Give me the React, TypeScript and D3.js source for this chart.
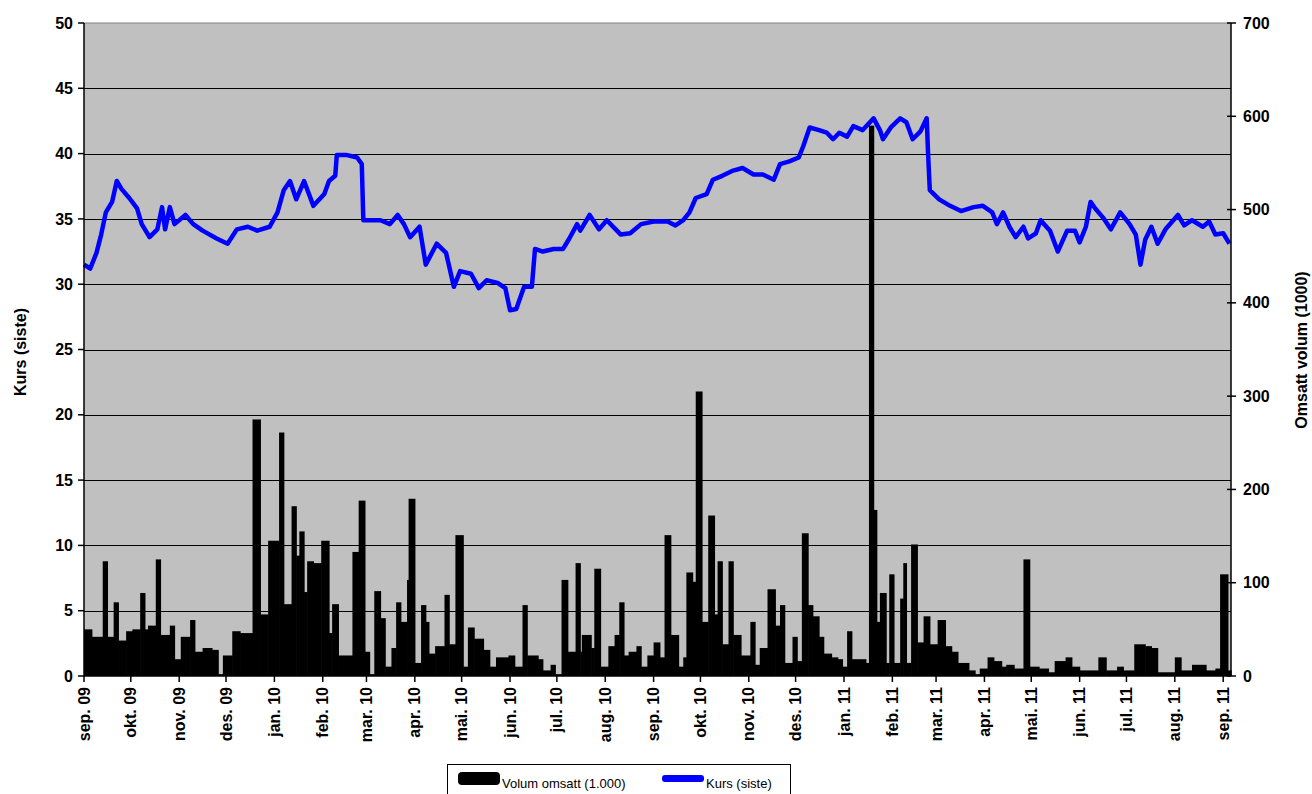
import * as d3 from "d3"
import React from "react"

// month tick labels on the x axis (one per month start)
const monthLabels = [
  "sep. 09", "okt. 09", "nov. 09", "des. 09", "jan. 10", "feb. 10", "mar. 10",
  "apr. 10", "mai. 10", "jun. 10", "jul. 10", "aug. 10", "sep. 10", "okt. 10",
  "nov. 10", "des. 10", "jan. 11", "feb. 11", "mar. 11", "apr. 11", "mai. 11",
  "jun. 11", "jul. 11", "aug. 11", "sep. 11",
]

const priceTicks = [0, 5, 10, 15, 20, 25, 30, 35, 40, 45, 50]
const volumeTicks = [0, 100, 200, 300, 400, 500, 600, 700]

// Kurs (siste)
const priceSeries: [string, number][] = [
  ["2009-09-01", 31.5], ["2009-09-05", 31.2], ["2009-09-09", 32.4], ["2009-09-12", 33.8],
  ["2009-09-15", 35.5], ["2009-09-19", 36.3], ["2009-09-22", 37.9], ["2009-09-25", 37.3],
  ["2009-09-30", 36.6], ["2009-10-05", 35.8], ["2009-10-08", 34.6], ["2009-10-13", 33.6],
  ["2009-10-18", 34.2], ["2009-10-21", 35.9], ["2009-10-23", 34.2], ["2009-10-26", 35.9],
  ["2009-10-29", 34.6], ["2009-11-05", 35.3], ["2009-11-10", 34.6], ["2009-11-16", 34.1],
  ["2009-11-25", 33.5], ["2009-12-02", 33.1], ["2009-12-08", 34.2], ["2009-12-15", 34.4],
  ["2009-12-21", 34.1], ["2009-12-29", 34.4], ["2010-01-03", 35.5], ["2010-01-07", 37.2],
  ["2010-01-11", 37.9], ["2010-01-15", 36.5], ["2010-01-20", 37.9], ["2010-01-26", 36.0],
  ["2010-02-02", 36.9], ["2010-02-05", 37.9], ["2010-02-09", 38.3], ["2010-02-10", 39.9],
  ["2010-02-16", 39.9], ["2010-02-23", 39.7], ["2010-02-26", 39.2], ["2010-02-27", 34.9],
  ["2010-03-03", 34.9], ["2010-03-10", 34.9], ["2010-03-16", 34.6], ["2010-03-21", 35.3],
  ["2010-03-25", 34.6], ["2010-03-29", 33.6], ["2010-04-04", 34.4], ["2010-04-08", 31.5],
  ["2010-04-15", 33.1], ["2010-04-21", 32.4], ["2010-04-26", 29.8], ["2010-04-30", 31.0],
  ["2010-05-07", 30.8], ["2010-05-12", 29.7], ["2010-05-17", 30.3], ["2010-05-24", 30.1],
  ["2010-05-29", 29.7], ["2010-06-01", 28.0], ["2010-06-05", 28.1], ["2010-06-10", 29.8],
  ["2010-06-15", 29.8], ["2010-06-17", 32.7], ["2010-06-22", 32.5], ["2010-06-29", 32.7],
  ["2010-07-05", 32.7], ["2010-07-09", 33.5], ["2010-07-14", 34.6], ["2010-07-16", 34.1],
  ["2010-07-22", 35.3], ["2010-07-28", 34.2], ["2010-08-02", 34.9], ["2010-08-11", 33.8],
  ["2010-08-17", 33.9], ["2010-08-24", 34.6], ["2010-09-01", 34.8], ["2010-09-10", 34.8],
  ["2010-09-15", 34.5], ["2010-09-20", 34.9], ["2010-09-24", 35.5], ["2010-09-28", 36.6],
  ["2010-10-05", 36.9], ["2010-10-09", 38.0], ["2010-10-15", 38.3], ["2010-10-22", 38.7],
  ["2010-10-28", 38.9], ["2010-11-04", 38.4], ["2010-11-10", 38.4], ["2010-11-17", 38.0],
  ["2010-11-21", 39.2], ["2010-11-27", 39.4], ["2010-12-03", 39.7], ["2010-12-06", 40.6],
  ["2010-12-10", 42.0], ["2010-12-16", 41.8], ["2010-12-21", 41.6], ["2010-12-25", 41.1],
  ["2010-12-29", 41.6], ["2011-01-03", 41.3], ["2011-01-07", 42.1], ["2011-01-13", 41.8],
  ["2011-01-20", 42.7], ["2011-01-24", 41.8], ["2011-01-26", 41.1], ["2011-01-31", 42.0],
  ["2011-02-06", 42.7], ["2011-02-10", 42.4], ["2011-02-14", 41.1], ["2011-02-19", 41.7],
  ["2011-02-23", 42.7], ["2011-02-24", 39.7], ["2011-02-25", 37.2], ["2011-03-03", 36.5],
  ["2011-03-10", 36.0], ["2011-03-17", 35.6], ["2011-03-25", 35.9], ["2011-03-31", 36.0],
  ["2011-04-06", 35.5], ["2011-04-09", 34.6], ["2011-04-13", 35.5], ["2011-04-17", 34.4],
  ["2011-04-21", 33.6], ["2011-04-26", 34.4], ["2011-04-29", 33.5], ["2011-05-04", 33.9],
  ["2011-05-07", 34.9], ["2011-05-13", 34.1], ["2011-05-18", 32.5], ["2011-05-24", 34.1],
  ["2011-05-29", 34.1], ["2011-06-01", 33.2], ["2011-06-05", 34.4], ["2011-06-08", 36.3],
  ["2011-06-11", 35.8], ["2011-06-16", 35.1], ["2011-06-21", 34.2], ["2011-06-27", 35.5],
  ["2011-07-03", 34.6], ["2011-07-07", 33.8], ["2011-07-10", 31.5], ["2011-07-13", 33.4],
  ["2011-07-17", 34.4], ["2011-07-21", 33.1], ["2011-07-26", 34.2], ["2011-08-03", 35.3],
  ["2011-08-07", 34.5], ["2011-08-12", 34.9], ["2011-08-19", 34.4], ["2011-08-23", 34.8],
  ["2011-08-27", 33.8], ["2011-09-01", 33.9], ["2011-09-05", 33.1],
]

// Volum omsatt (1.000) - each value holds until the next date
const volumeSeries: [string, number][] = [
  ["2009-09-01", 50], ["2009-09-06", 42], ["2009-09-13", 123], ["2009-09-16", 42],
  ["2009-09-20", 79], ["2009-09-23", 38], ["2009-09-28", 48], ["2009-10-02", 50],
  ["2009-10-07", 89], ["2009-10-10", 50], ["2009-10-12", 54], ["2009-10-17", 125],
  ["2009-10-20", 44], ["2009-10-26", 54], ["2009-10-29", 18], ["2009-11-02", 42],
  ["2009-11-08", 60], ["2009-11-11", 26], ["2009-11-16", 30], ["2009-11-22", 28],
  ["2009-11-26", 2], ["2009-11-29", 22], ["2009-12-05", 48], ["2009-12-10", 46],
  ["2009-12-18", 275], ["2009-12-23", 66], ["2009-12-28", 145], ["2010-01-04", 261],
  ["2010-01-07", 77], ["2010-01-12", 182], ["2010-01-15", 129], ["2010-01-17", 155],
  ["2010-01-20", 90], ["2010-01-22", 123], ["2010-01-26", 121], ["2010-01-31", 145],
  ["2010-02-05", 46], ["2010-02-07", 77], ["2010-02-11", 22], ["2010-02-20", 133],
  ["2010-02-24", 188], ["2010-02-28", 26], ["2010-03-03", 2], ["2010-03-06", 91],
  ["2010-03-10", 62], ["2010-03-13", 10], ["2010-03-17", 30], ["2010-03-20", 79],
  ["2010-03-23", 58], ["2010-03-27", 103], ["2010-03-28", 190], ["2010-04-01", 14],
  ["2010-04-05", 76], ["2010-04-08", 58], ["2010-04-10", 24], ["2010-04-14", 32],
  ["2010-04-20", 87], ["2010-04-23", 34], ["2010-04-27", 151], ["2010-05-02", 10],
  ["2010-05-05", 52], ["2010-05-09", 40], ["2010-05-15", 28], ["2010-05-19", 10],
  ["2010-05-23", 20], ["2010-05-31", 22], ["2010-06-04", 10], ["2010-06-09", 76],
  ["2010-06-12", 22], ["2010-06-19", 18], ["2010-06-22", 6], ["2010-06-27", 12],
  ["2010-06-30", 2], ["2010-07-04", 103], ["2010-07-08", 26], ["2010-07-13", 121],
  ["2010-07-16", 26], ["2010-07-17", 44], ["2010-07-23", 30], ["2010-07-25", 115],
  ["2010-07-29", 10], ["2010-08-03", 32], ["2010-08-07", 44], ["2010-08-10", 79],
  ["2010-08-13", 22], ["2010-08-16", 26], ["2010-08-21", 32], ["2010-08-24", 10],
  ["2010-08-28", 22], ["2010-09-01", 36], ["2010-09-05", 20], ["2010-09-08", 151],
  ["2010-09-12", 44], ["2010-09-17", 10], ["2010-09-20", 20], ["2010-09-22", 111],
  ["2010-09-26", 101], ["2010-09-28", 305], ["2010-10-02", 58], ["2010-10-06", 172],
  ["2010-10-10", 66], ["2010-10-12", 123], ["2010-10-15", 34], ["2010-10-19", 123],
  ["2010-10-22", 44], ["2010-10-27", 22], ["2010-11-02", 58], ["2010-11-05", 12],
  ["2010-11-08", 30], ["2010-11-13", 93], ["2010-11-18", 54], ["2010-11-21", 76],
  ["2010-11-24", 14], ["2010-11-29", 42], ["2010-12-02", 16], ["2010-12-05", 153],
  ["2010-12-09", 76], ["2010-12-12", 64], ["2010-12-16", 42], ["2010-12-19", 24],
  ["2010-12-24", 20], ["2010-12-28", 18], ["2010-12-31", 10], ["2011-01-03", 48],
  ["2011-01-06", 18], ["2011-01-15", 14], ["2011-01-17", 590], ["2011-01-20", 178],
  ["2011-01-22", 58], ["2011-01-24", 89], ["2011-01-28", 14], ["2011-01-30", 109],
  ["2011-02-02", 14], ["2011-02-06", 83], ["2011-02-08", 121], ["2011-02-10", 14],
  ["2011-02-13", 141], ["2011-02-17", 36], ["2011-02-21", 64], ["2011-02-25", 34],
  ["2011-03-02", 60], ["2011-03-07", 32], ["2011-03-11", 26], ["2011-03-15", 14],
  ["2011-03-22", 6], ["2011-03-26", 2], ["2011-03-29", 8], ["2011-04-03", 20],
  ["2011-04-07", 16], ["2011-04-12", 10], ["2011-04-15", 12], ["2011-04-20", 8],
  ["2011-04-26", 125], ["2011-04-30", 10], ["2011-05-06", 8], ["2011-05-12", 4],
  ["2011-05-16", 16], ["2011-05-23", 20], ["2011-05-27", 10], ["2011-06-01", 6],
  ["2011-06-13", 20], ["2011-06-18", 6], ["2011-06-25", 10], ["2011-06-29", 6],
  ["2011-07-06", 34], ["2011-07-13", 32], ["2011-07-17", 30], ["2011-07-21", 4],
  ["2011-08-01", 20], ["2011-08-05", 6], ["2011-08-12", 12], ["2011-08-21", 6],
  ["2011-08-27", 8], ["2011-08-30", 109], ["2011-09-04", 6],
]

const width = 1312
const height = 794
const left = 84
const right = 1231
const top = 23
const bottom = 676
const font = "'Liberation Sans', Arial, sans-serif"

export default function App() {
  const parse = d3.timeParse("%Y-%m-%d")
  const start = parse("2009-09-01")
  const end = parse("2011-09-06")

  const x = d3.scaleTime().domain([start, end]).range([left, right])
  const yPrice = d3.scaleLinear().domain([0, 50]).range([bottom, top])
  const yVol = d3.scaleLinear().domain([0, 700]).range([bottom, top])

  const monthTicks = d3.timeMonth.range(start, parse("2011-09-02"))

  const vol = volumeSeries.map(([d, v]) => ({ date: parse(d), value: v }))
  const price = priceSeries.map(([d, v]) => ({ date: parse(d), value: v }))

  const line = d3
    .line<{ date: Date; value: number }>()
    .x((d) => x(d.date))
    .y((d) => yPrice(d.value))

  return (
    <svg
      width={width}
      height={height}
      style={{ position: "absolute", left: 0, top: 0, background: "#fff" }}
      fontFamily={font}
    >
      <rect x={left} y={top} width={right - left} height={bottom - top} fill="#c0c0c0" />
      <line x1={left} x2={right} y1={top} y2={top} stroke="#808080" />

      {priceTicks.slice(1, -1).map((t) => (
        <line key={t} x1={left} x2={right} y1={Math.round(yPrice(t)) + 0.5} y2={Math.round(yPrice(t)) + 0.5} stroke="#000" />
      ))}

      {vol.map((d, i) => {
        const x0 = x(d.date)
        const x1 = i < vol.length - 1 ? x(vol[i + 1].date) : x(end)
        return (
          <rect
            key={i}
            x={x0}
            y={yVol(d.value)}
            width={Math.max(1, x1 - x0 + 0.6)}
            height={bottom - yVol(d.value)}
            fill="#000"
          />
        )
      })}

      <path d={line(price)} fill="none" stroke="#0000ff" strokeWidth={4.5} strokeLinejoin="round" />

      {/* left axis */}
      <line x1={left} x2={left} y1={top} y2={bottom} stroke="#000" strokeWidth={1.5} />
      {priceTicks.map((t) => (
        <g key={t} transform={`translate(0,${yPrice(t)})`}>
          <line x1={left - 6} x2={left} stroke="#000" strokeWidth={1.5} />
          <text x={left - 11} dy="0.35em" textAnchor="end" fontSize={16} fontWeight="bold">
            {t}
          </text>
        </g>
      ))}
      <text
        transform={`translate(20,352) rotate(-90)`}
        textAnchor="middle"
        dy="0.35em"
        fontSize={16}
        fontWeight="bold"
      >
        Kurs (siste)
      </text>

      {/* right axis */}
      <line x1={right} x2={right} y1={top} y2={bottom} stroke="#000" strokeWidth={1.5} />
      {volumeTicks.map((t) => (
        <g key={t} transform={`translate(0,${yVol(t)})`}>
          <line x1={right - 4} x2={right + 5} stroke="#000" strokeWidth={1.5} />
          <text x={right + 12} dy="0.35em" textAnchor="start" fontSize={16} fontWeight="bold">
            {t}
          </text>
        </g>
      ))}
      <text
        transform={`translate(1301,350) rotate(-90)`}
        textAnchor="middle"
        dy="0.35em"
        fontSize={16}
        fontWeight="bold"
      >
        Omsatt volum (1000)
      </text>

      {/* bottom axis */}
      <line x1={left} x2={right} y1={bottom} y2={bottom} stroke="#000" strokeWidth={1.5} />
      {monthTicks.map((m, i) => (
        <g key={i} transform={`translate(${x(m)},${bottom})`}>
          <line y1={0} y2={6} stroke="#000" strokeWidth={1.5} />
          <text
            transform="translate(0,11) rotate(-90)"
            dy="0.35em"
            textAnchor="end"
            fontSize={16}
            fontWeight="bold"
          >
            {monthLabels[i]}
          </text>
        </g>
      ))}

      {/* legend */}
      <rect x={447.5} y={764.5} width={343} height={40} fill="#fff" stroke="#000" />
      <rect x={458} y={772} width={42} height={13} rx={4} fill="#000" />
      <text x={502} y={788} fontSize={13}>
        Volum omsatt (1.000)
      </text>
      <rect x={662} y={775} width={42} height={7} rx={3} fill="#0000ff" />
      <text x={706} y={788} fontSize={13}>
        Kurs (siste)
      </text>
    </svg>
  )
}
